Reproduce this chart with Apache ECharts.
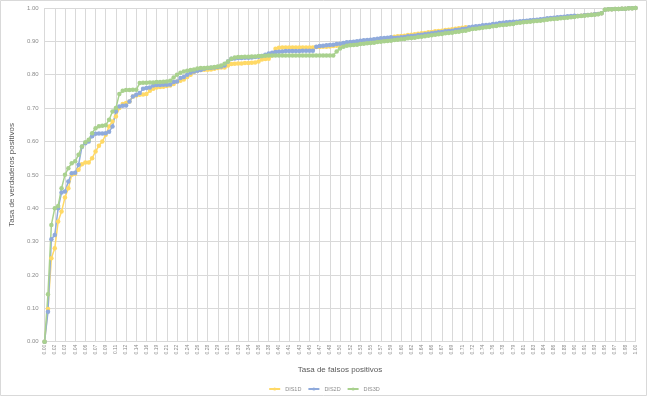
<!DOCTYPE html>
<html>
<head>
<meta charset="utf-8">
<script src="https://cdn.jsdelivr.net/npm/echarts@6/dist/echarts.min.js"></script>
<style>html,body{margin:0;padding:0;background:#fff}#c{width:648px;height:397px}</style>
</head>
<body>
<div id="c"></div>
<script>
const tickLabels = ["0.00","0.02","0.03","0.04","0.06","0.07","0.09","0.11","0.12","0.14","0.16","0.19","0.21","0.22","0.24","0.26","0.28","0.29","0.31","0.33","0.34","0.36","0.38","0.40","0.41","0.43","0.45","0.47","0.48","0.50","0.52","0.53","0.55","0.57","0.59","0.60","0.62","0.64","0.66","0.67","0.69","0.71","0.72","0.74","0.76","0.78","0.79","0.81","0.83","0.84","0.86","0.88","0.90","0.91","0.93","0.95","0.97","0.98","1.00"];
const pointsPerTick = 3;
const seriesNames = ["DIS1D","DIS2D","DIS3D"];
const dis1d = [0,0.098,0.25,0.28,0.36,0.39,0.432,0.46,0.50,0.503,0.515,0.532,0.537,0.537,0.55,0.57,0.587,0.60,0.62,0.645,0.66,0.675,0.70,0.712,0.715,0.72,0.735,0.738,0.740,0.741,0.742,0.752,0.758,0.762,0.763,0.764,0.766,0.768,0.772,0.779,0.782,0.786,0.793,0.800,0.808,0.812,0.814,0.815,0.815,0.816,0.818,0.820,0.822,
0.822,0.828,0.832,0.833,0.834,0.834,0.835,0.835,0.836,0.837,0.840,0.846,0.847,0.848,0.858,0.878,0.881,0.882,0.882,0.882,0.882,0.882,0.882,0.882,0.882,0.882,0.882,0.883,0.883,0.884,0.884,0.885,0.886,0.887,0.888,0.889,
0.893,0.894,0.895,0.896,0.898,0.899,0.900,0.901,0.902,0.904,0.905,0.906,0.907,0.908,
0.914,0.915,0.916,0.917,0.919,0.920,0.921,0.923,0.924,0.925,0.927,0.928,0.930,0.931,0.932,0.934,0.935,0.936,0.938,0.939,0.941,0.942,
0.939,0.941,0.942,0.943,0.945,0.946,0.947,0.949,0.950,0.952,0.953,0.954,0.955,0.956,
0.957,0.958,0.959,0.960,0.961,0.962,0.963,0.964,0.965,0.967,0.968,0.969,0.970,0.971,0.972,0.973,0.974,0.975,
0.976,0.977,0.978,0.979,0.980,0.981,0.982,
0.984,0.995,0.996,0.996,0.997,0.997,0.998,0.998,0.999,0.999,1.000];
const dis2d = [0,0.09,0.307,0.32,0.40,0.447,0.45,0.48,0.505,0.506,0.53,0.584,0.595,0.60,0.616,0.623,0.624,0.624,0.625,0.629,0.645,0.69,0.705,0.707,0.708,0.72,0.735,0.740,0.745,0.758,0.760,0.762,0.768,0.769,0.769,0.770,0.770,0.771,0.778,0.780,0.790,0.793,0.800,0.806,0.810,0.812,0.814,0.818,0.820,0.821,0.822,0.823,0.825,
0.828,0.840,0.848,0.849,0.850,0.850,0.851,0.851,0.852,0.853,0.854,0.856,0.860,0.864,0.866,0.868,0.869,0.870,0.871,0.871,0.871,0.871,0.871,0.872,0.872,0.872,0.872,0.884,0.886,0.887,0.888,0.889,0.890,0.892,0.893,0.895,
0.897,0.898,0.899,0.900,0.902,0.903,0.904,0.905,0.906,0.908,0.909,0.910,0.911,0.912,
0.910,0.911,0.912,0.913,0.915,0.916,0.917,0.919,0.920,0.921,0.923,0.924,0.926,0.927,0.928,0.930,0.931,0.932,0.934,0.935,0.937,0.938,
0.942,0.944,0.945,0.946,0.948,0.949,0.950,0.952,0.953,0.955,0.956,0.957,0.958,0.959,
0.959,0.960,0.961,0.962,0.963,0.964,0.965,0.966,0.967,0.969,0.970,0.971,0.972,0.973,0.974,0.975,0.976,0.977,
0.976,0.977,0.978,0.979,0.980,0.981,0.982,
0.984,0.995,0.996,0.996,0.997,0.997,0.998,0.998,0.999,0.999,1.000];
const dis3d = [0,0.142,0.35,0.40,0.407,0.46,0.50,0.52,0.535,0.541,0.56,0.585,0.598,0.605,0.625,0.64,0.646,0.647,0.649,0.665,0.69,0.70,0.742,0.752,0.754,0.754,0.755,0.755,0.775,0.776,0.776,0.777,0.777,0.778,0.778,0.779,0.780,0.782,0.792,0.800,0.806,0.810,0.812,0.814,0.816,0.819,0.820,0.820,0.821,0.822,0.823,0.825,0.828,
0.833,0.840,0.848,0.852,0.853,0.853,0.854,0.854,0.855,0.855,0.856,0.856,0.857,0.858,0.858,0.858,0.858,0.858,0.858,0.858,0.858,0.858,0.858,0.858,0.858,0.858,0.858,0.858,0.858,0.858,0.858,0.858,0.858,0.870,0.879,0.884,
0.887,0.888,0.889,0.890,0.892,0.893,0.894,0.895,0.896,0.898,0.899,0.900,0.901,0.902,
0.904,0.905,0.906,0.907,0.909,0.910,0.911,0.913,0.914,0.915,0.917,0.918,0.920,0.921,0.922,0.924,0.925,0.926,0.928,0.929,0.931,0.932,
0.935,0.937,0.938,0.939,0.941,0.942,0.943,0.945,0.946,0.948,0.949,0.950,0.951,0.952,
0.955,0.956,0.957,0.958,0.959,0.960,0.961,0.962,0.963,0.965,0.966,0.967,0.968,0.969,0.970,0.971,0.972,0.973,
0.975,0.976,0.977,0.978,0.979,0.980,0.981,
0.984,0.995,0.996,0.996,0.997,0.997,0.998,0.998,0.999,0.999,1.000];
const colors = ["#FFD966","#8FAADC","#A9D18E"];

const nCats = dis1d.length;
const categories = [];
for (let i = 0; i < nCats; i++) categories.push(String(i));

const chart = echarts.init(document.getElementById('c'), null, {renderer:'canvas'});
const mk = (name, data, color) => ({
  name, type:'line', data, symbol:'circle', symbolSize:4.5, showSymbol:true, showAllSymbol:true,
  lineStyle:{color, width:1.5}, itemStyle:{color, borderWidth:0}, emphasis:{disabled:true}
});
chart.setOption({
  animation:false,
  backgroundColor:'#fff',
  color: colors,
  grid:{left:40.5, right:12.5, top:8, bottom:55.3, containLabel:false},
  xAxis:{
    type:'category', data:categories, boundaryGap:false,
    name:'Tasa de falsos positivos', nameLocation:'middle', nameGap:24,
    nameTextStyle:{fontSize:8, color:'#595959', fontFamily:'Liberation Sans'},
    axisLine:{show:true, lineStyle:{color:'#d9d9d9', width:1}},
    axisTick:{show:false},
    axisLabel:{interval:pointsPerTick-1, rotate:90, fontSize:5, color:'#8c8c8c', margin:3, fontFamily:'Liberation Sans',
      formatter:(v, idx)=> tickLabels[Math.round(idx/pointsPerTick)] || ''},
    splitLine:{show:true, interval:pointsPerTick-1, lineStyle:{color:'#d9d9d9', width:1}}
  },
  yAxis:{
    type:'value', min:0, max:1, interval:0.1,
    name:'Tasa de verdaderos positivos', nameLocation:'middle', nameGap:24,
    nameTextStyle:{fontSize:8, color:'#595959', fontFamily:'Liberation Sans'},
    axisLine:{show:false}, axisTick:{show:false},
    axisLabel:{fontSize:6, color:'#8c8c8c', margin:6, fontFamily:'Liberation Sans', formatter:v=>v.toFixed(2)},
    splitLine:{show:true, lineStyle:{color:'#d9d9d9', width:1}}
  },
  legend:{
    data:seriesNames, top:381, left:'center', itemWidth:11, itemHeight:4, itemGap:6,
    textStyle:{fontSize:5.5, color:'#8c8c8c', fontFamily:'Liberation Sans'}
  },
  graphic:[{type:'rect', shape:{x:0.5, y:0.5, width:646, height:395}, style:{fill:'none', stroke:'#d9d9d9', lineWidth:1}, silent:true}],
  series:[mk(seriesNames[0], dis1d, colors[0]), mk(seriesNames[1], dis2d, colors[1]), mk(seriesNames[2], dis3d, colors[2])]
});
</script>
</body>
</html>
